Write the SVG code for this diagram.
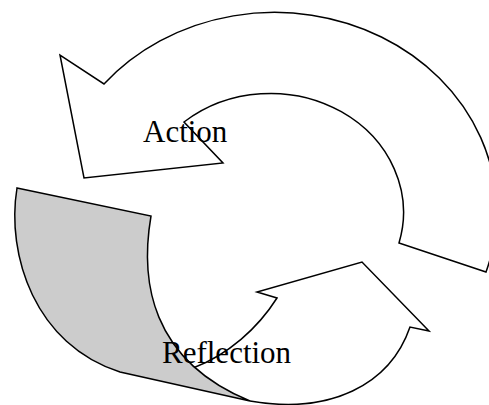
<svg xmlns="http://www.w3.org/2000/svg" width="489" height="405" viewBox="0 0 489 405">
  <style>
    .shape { stroke: #000; stroke-width: 1.5; stroke-linejoin: miter; }
    .white { fill: #fff; }
    .fold { fill: #cccccc; }
    .label { font-family: "Liberation Serif", "Times New Roman", serif; font-size: 31px; fill: #000; }
  </style>
  <rect width="489" height="405" fill="#fff"/>

  <!-- Upper curved arrow, pointing left -->
  <g id="action-arrow">
    <path class="shape white" d="M 486,272 A 222 199 0 0 0 104,84 L 60,55 L 84,178 L 223,163 L 184,122 A 133 119 0 0 1 399,243 Z"/>
  </g>

  <!-- Lower curved arrow, pointing up-right -->
  <g id="reflection-arrow">
    <path class="shape white" d="M 193,368 C 228,355 258,328 277,298 L 257,292 L 362,262 L 429,331 L 410,327 C 390,385 330,415 250,401"/>
  </g>

  <!-- Grey underside where the lower arrow curls -->
  <g id="reflection-fold">
    <path class="shape fold" d="M 17,188 L 151,216 C 140,280 150,360 250,401 L 120,372 C 35,345 6,255 17,188 Z"/>
  </g>

  <g id="labels">
    <text class="label" x="143" y="142">Action</text>
    <text class="label" x="162" y="363">Reflection</text>
  </g>
</svg>
